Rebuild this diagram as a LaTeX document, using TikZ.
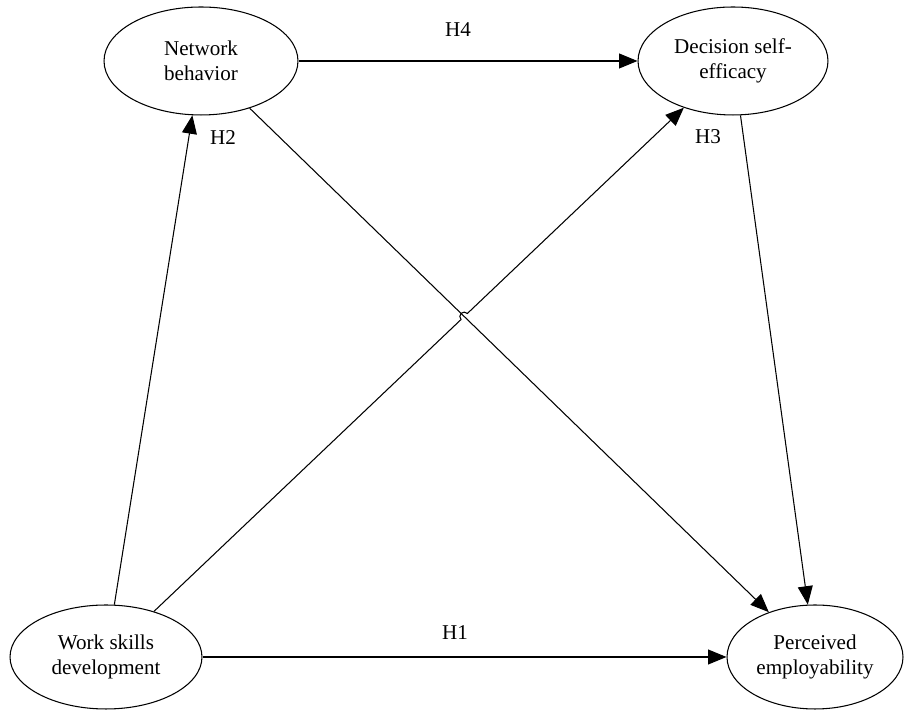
\documentclass[tikz,border=0pt]{standalone}
\usepackage{fontspec}
\setmainfont{Liberation Serif}
\usetikzlibrary{shapes.geometric, arrows.meta, intersections, calc}

\begin{document}
\begin{tikzpicture}[x=0.02cm, y=0.02cm,
    construto/.style={draw, ellipse, line width=0.6pt, inner sep=0pt, align=center,
        minimum width=3.84cm, minimum height=2.12cm, font=\fontsize{12}{14}\selectfont},
    seta/.style={-{Triangle[length=10.5pt, width=8.5pt]}, line width=0.6pt},
    hip/.style={font=\fontsize{12}{14}\selectfont}]
    \useasboundingbox (0,0) rectangle (906,712);

    % Construtos
    \node[construto, minimum width=3.88cm, minimum height=2.16cm] (nb) at (201,651) {Network\\behavior};
    \node[construto, minimum width=3.80cm, minimum height=2.16cm] (dse) at (733,651) {Decision self-\\efficacy};
    \node[construto, minimum height=2.08cm] (wsd) at (106,55) {Work skills\\development};
    \node[construto, minimum width=3.52cm, minimum height=2.08cm] (pe) at (815,55) {Perceived\\employability};

    % Hipoteses
    \node[hip] (h1) at (455,79) {H1};
    \node[hip] (h2) at (223,574) {H2};
    \node[hip] (h3) at (708,575) {H3};
    \node[hip] (h4) at (458,682) {H4};

    % Setas
    \draw[seta] (wsd) -- (pe);
    \draw[seta] (wsd) -- (nb);
    \draw[seta] (nb) -- (dse);
    \draw[seta] (nb) -- (pe);
    \draw[seta] (dse) -- (pe);

    % Cruzamento com salto
    \path[name path=diag1] (wsd) -- (dse);
    \path[name path=diag2] (nb) -- (pe);
    \path[name intersections={of=diag1 and diag2, by=cruz}];
    \draw[seta] (wsd) -- ($(cruz)!2.5pt!(wsd)$)
        arc[start angle=223.6, end angle=43.6, radius=2.5pt] -- (dse);
\end{tikzpicture}
\end{document}
